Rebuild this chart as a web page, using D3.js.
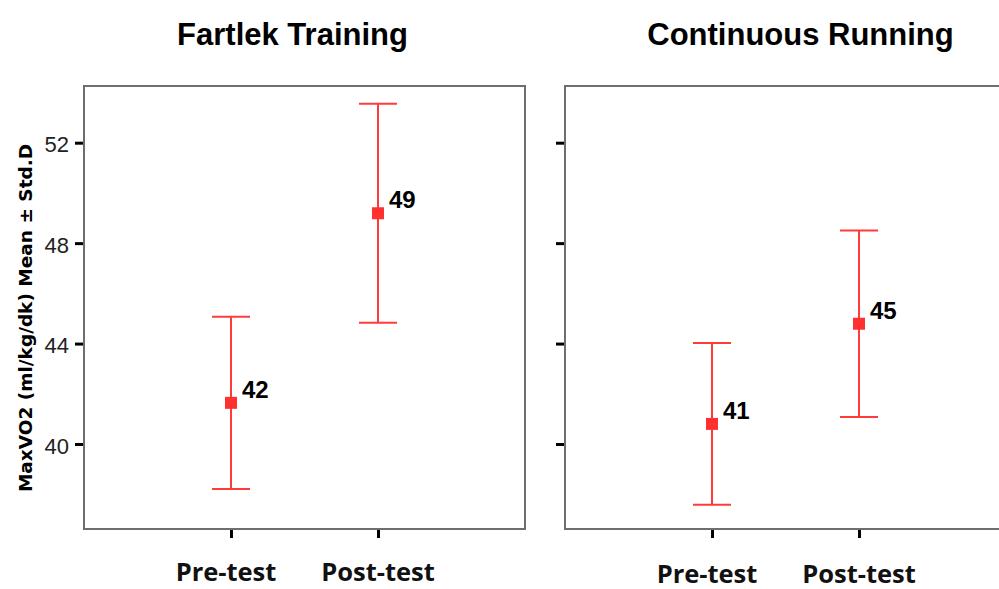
<!DOCTYPE html>
<html>
<head>
<meta charset="utf-8">
<script src="https://cdn.jsdelivr.net/npm/d3@7"></script>
<style>
  html, body { margin: 0; padding: 0; background: #fff; }
  svg { display: block; }
</style>
</head>
<body>
<svg id="chart" width="999" height="589"></svg>
<script>
// ---- data ----
const panels = ["Fartlek Training", "Continuous Running"];
const categories = ["Pre-test", "Post-test"];
const fartlekMean = [41.64, 49.19];
const fartlekSD = [3.43, 4.36];
const continuousMean = [40.80, 44.79];
const continuousSD = [3.22, 3.71];
const yTicks = [40, 44, 48, 52];
const yTitle = "MaxVO2 (ml/kg/dk) Mean \u00b1 Std.D";

const series = [
  { title: panels[0], mean: fartlekMean, sd: fartlekSD },
  { title: panels[1], mean: continuousMean, sd: continuousSD }
];

// ---- layout ----
const svg = d3.select("#chart");
const W = 999, H = 589;
svg.append("rect").attr("width", W).attr("height", H).attr("fill", "#fff");

const pTop = 86, pBottom = 529, pw = 441;
const panelX = [84, 565];
const titleDx = [-12, 15];
const xLabelBase = [580.5, 582.5];
const red = "#ff3b3b";

const y = d3.scaleLinear().domain([36.615, 54.258]).range([pBottom, pTop]);
const x = d3.scalePoint().domain(categories).range([0, pw]).padding(1);
const fmt = d3.format(".0f");

series.forEach((s, i) => {
  const g = svg.append("g").attr("transform", `translate(${panelX[i]},0)`);

  // title
  g.append("text")
    .attr("x", pw / 2 + titleDx[i]).attr("y", 45)
    .attr("text-anchor", "middle")
    .style("font-family", "'Liberation Sans', Arial, sans-serif")
    .style("font-weight", "bold").style("font-size", "31px")
    .attr("fill", "#000")
    .text(s.title);

  // y axis ticks
  const ya = g.append("g").call(
    d3.axisLeft(y).tickValues(yTicks).tickSize(9).tickPadding(6)
      .tickFormat(i === 0 ? d3.format("d") : () => "")
  );
  ya.select(".domain").remove();
  ya.selectAll(".tick line").attr("stroke", "#000").attr("stroke-width", 3);
  ya.selectAll(".tick text")
    .attr("dy", "0.42em")
    .style("font-family", "'Liberation Sans', Arial, sans-serif")
    .style("font-size", "22px").attr("fill", "#222");

  // x axis ticks
  const xa = g.append("g").attr("transform", `translate(0,${pBottom})`).call(
    d3.axisBottom(x).tickSize(9).tickFormat(() => "")
  );
  xa.select(".domain").remove();
  xa.selectAll(".tick line").attr("stroke", "#000").attr("stroke-width", 3);

  // x labels
  g.selectAll(".xlab").data(categories).enter().append("text")
    .attr("class", "xlab")
    .attr("x", d => x(d) - (d === categories[0] ? 5 : 0))
    .attr("y", xLabelBase[i])
    .attr("text-anchor", "middle")
    .style("font-family", "'Open Sans', sans-serif")
    .style("font-weight", "bold").style("font-size", "25.5px")
    .attr("fill", "#111")
    .text(d => d);

  // panel border
  g.append("rect")
    .attr("x", 0).attr("y", pTop).attr("width", pw).attr("height", pBottom - pTop)
    .attr("fill", "none").attr("stroke", "#6e6e6e").attr("stroke-width", 2);

  const pts = categories.map((c, j) => ({ c, m: s.mean[j], sd: s.sd[j] }));

  // error bars
  const eb = g.selectAll(".eb").data(pts).enter().append("g").attr("class", "eb");
  eb.append("line")
    .attr("x1", d => x(d.c)).attr("x2", d => x(d.c))
    .attr("y1", d => y(d.m + d.sd)).attr("y2", d => y(d.m - d.sd))
    .attr("stroke", red).attr("stroke-width", 2);
  [1, -1].forEach(sg => {
    eb.append("line")
      .attr("x1", d => x(d.c) - 19).attr("x2", d => x(d.c) + 19)
      .attr("y1", d => y(d.m + sg * d.sd)).attr("y2", d => y(d.m + sg * d.sd))
      .attr("stroke", red).attr("stroke-width", 2);
  });

  // mean markers
  eb.append("rect")
    .attr("x", d => x(d.c) - 6).attr("y", d => y(d.m) - 6)
    .attr("width", 12).attr("height", 12)
    .attr("fill", "#ff3030");

  // value labels
  eb.append("text")
    .attr("x", d => x(d.c) + 11).attr("y", d => y(d.m) - 5)
    .style("font-family", "'Liberation Sans', Arial, sans-serif")
    .style("font-weight", "bold").style("font-size", "24px")
    .attr("fill", "#000")
    .text(d => fmt(d.m));
});

// y axis title
svg.append("text")
  .attr("transform", "translate(32,318) rotate(-90)")
  .attr("text-anchor", "middle")
  .style("font-family", "'DejaVu Sans', Verdana, sans-serif")
  .style("font-weight", "bold").style("font-size", "18.5px")
  .attr("fill", "#000")
  .text(yTitle);
</script>
</body>
</html>
